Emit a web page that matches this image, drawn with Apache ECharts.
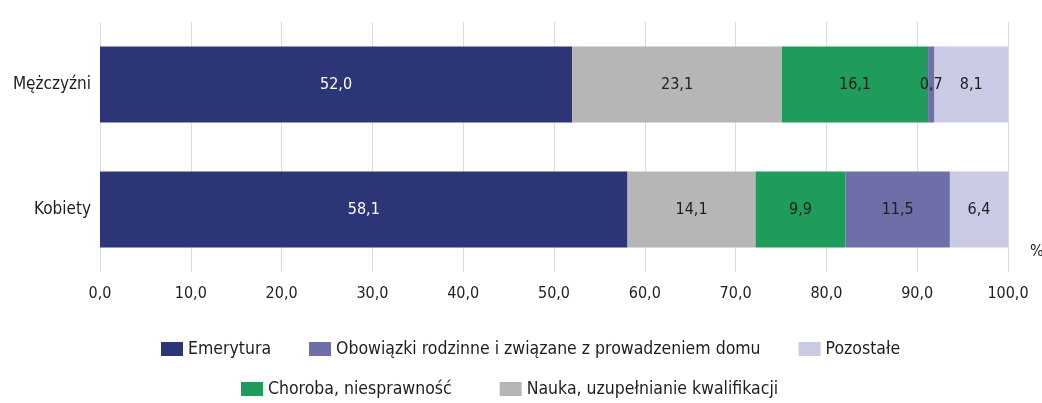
<!DOCTYPE html>
<html>
<head>
<meta charset="utf-8">
<script src="https://cdn.jsdelivr.net/npm/echarts@6/dist/echarts.min.js"></script>
<style>
html,body{margin:0;padding:0;background:#fff;}
#main{width:1042px;height:403px;}
</style>
</head>
<body>
<div id="main"></div>
<script>
// dane z wykresu
const categories = ['Kobiety', 'Mężczyźni'];
const emerytura = [58.1, 52.0];
const nauka = [14.1, 23.1];
const choroba = [9.9, 16.1];
const obowiazki = [11.5, 0.7];
const pozostale = [6.4, 8.1];
const xTicks = [0, 100, 10];

const font = '"DejaVu Sans Condensed","Roboto",sans-serif';
const txt = '#1e1e1e';

function fmt(v){ return v.toFixed(1).replace('.', ','); }

function serie(name, data, color, labelColor){
	return {
		name: name,
		type: 'bar',
		stack: 'all',
		barWidth: 76,
		data: data,
		itemStyle: {color: color},
		label: {
			show: true,
			position: 'inside',
			color: labelColor,
			fontFamily: font,
			fontSize: 16,
			formatter: p => fmt(p.value)
		}
	};
}

let myChart = echarts.init(document.getElementById('main'));
myChart.setOption({
	backgroundColor: '#fff',
	animation: false,
	grid: {left: 100, right: 34, top: 22, bottom: 131},
	xAxis: {
		type: 'value',
		min: xTicks[0], max: xTicks[1], interval: xTicks[2],
		axisLine: {show: false},
		axisTick: {show: false},
		splitLine: {lineStyle: {color: '#dcdce0', width: 1}},
		axisLabel: {
			color: txt, fontFamily: font, fontSize: 16, margin: 14,
			formatter: v => fmt(v)
		}
	},
	yAxis: {
		type: 'category',
		data: categories,
		axisLine: {show: false},
		axisTick: {show: false},
		axisLabel: {color: txt, fontFamily: font, fontSize: 17, margin: 9}
	},
	legend: [{
		data: ['Emerytura', 'Obowiązki rodzinne i związane z prowadzeniem domu', 'Pozostałe'],
		top: 335, left: 156,
		itemWidth: 22, itemHeight: 14, itemGap: 38,
		icon: 'rect',
		textStyle: {color: txt, fontFamily: font, fontSize: 17.5}
	}, {
		data: ['Choroba, niesprawność', 'Nauka, uzupełnianie kwalifikacji'],
		top: 375, left: 236,
		itemWidth: 22, itemHeight: 14, itemGap: 48,
		icon: 'rect',
		textStyle: {color: txt, fontFamily: font, fontSize: 17.5}
	}],
	graphic: [{
		type: 'text', left: 1030, top: 244,
		style: {text: '%', fill: txt, font: '16px ' + font}
	}],
	series: [
		serie('Emerytura', emerytura, '#2c3677', '#ffffff'),
		serie('Nauka, uzupełnianie kwalifikacji', nauka, '#b6b6b6', txt),
		serie('Choroba, niesprawność', choroba, '#1f9b5b', txt),
		serie('Obowiązki rodzinne i związane z prowadzeniem domu', obowiazki, '#6e6ea9', txt),
		serie('Pozostałe', pozostale, '#cacae4', txt)
	]
});
</script>
</body>
</html>
